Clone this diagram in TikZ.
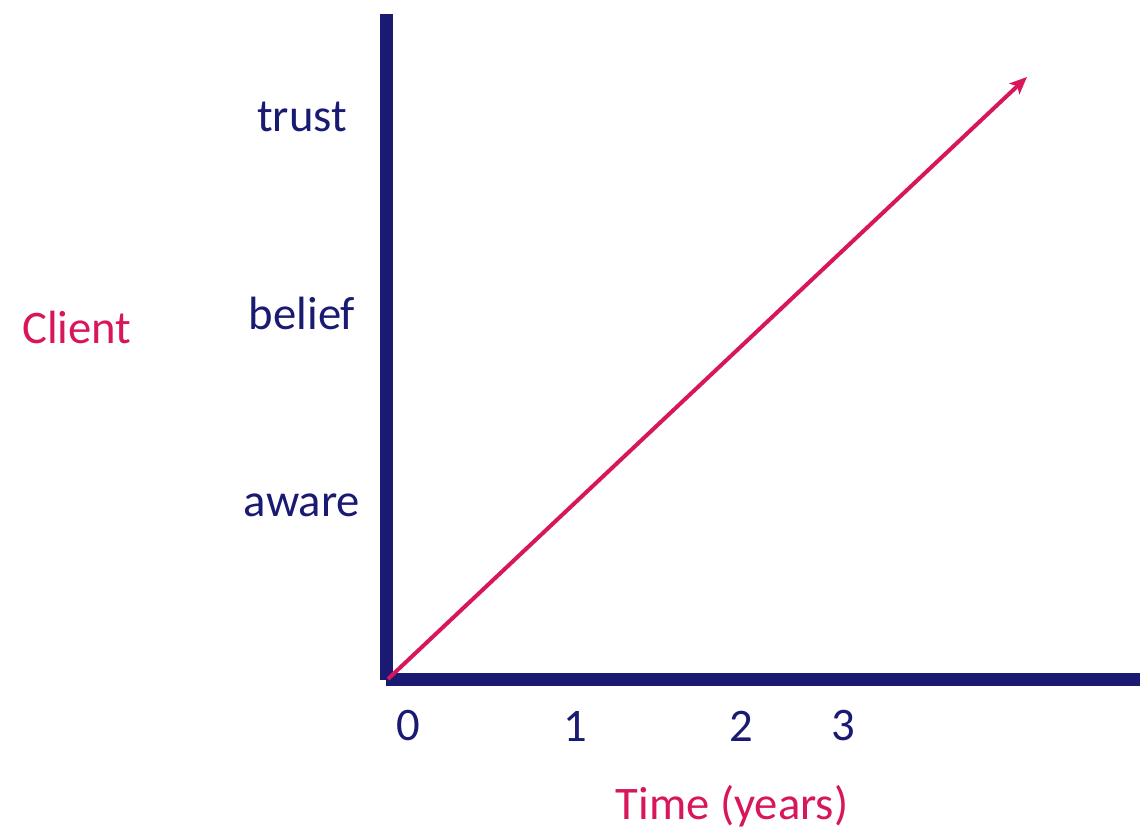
\documentclass[tikz,border=0pt]{standalone}
\usepackage{fontspec}
\setmainfont{Carlito}
\usetikzlibrary{arrows.meta}
\definecolor{navy}{HTML}{1A1A73}
\definecolor{rose}{HTML}{D8165C}
\tikzset{
  lbl/.style={font=\fontsize{35}{40}\selectfont, text=navy, inner sep=0pt},
  rlbl/.style={font=\fontsize{35}{40}\selectfont, text=rose, inner sep=0pt},
  axis/.style={draw=navy, line width=9.75pt},
  growth/.style={draw=rose, line width=3pt, -{Stealth[length=13pt,width=11pt,inset=3pt]}}
}
\begin{document}
\begin{tikzpicture}[x=0.75pt,y=-0.75pt]
\useasboundingbox (0,0) rectangle (1140,837);
\coordinate (ytop) at (386.5,14);
\coordinate (ybot) at (386.5,680);
\coordinate (xl) at (386,679.5);
\coordinate (xr) at (1140,679.5);
\coordinate (o) at (388,679);
\coordinate (tip) at (1027,77);
\draw[axis] (ytop) -- (ybot);
\draw[axis] (xl) -- (xr);
\draw[growth] (o) -- (tip);
\node[lbl] (trust) at (302,117) {trust};
\node[lbl] (belief) at (302,313) {belief};
\node[lbl] (aware) at (302,505) {aware};
\node[rlbl] (client) at (77,327) {Client};
\node[lbl] (t0) at (408,726) {0};
\node[lbl] (t1) at (575,726) {1};
\node[lbl] (t2) at (741,726) {2};
\node[lbl] (t3) at (843,726) {3};
\node[rlbl] (time) at (732,806) {Time (years)};
\end{tikzpicture}
\end{document}
